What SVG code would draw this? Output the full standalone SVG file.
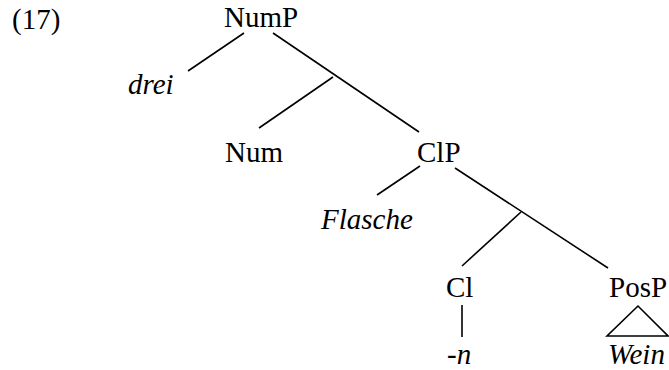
<svg xmlns="http://www.w3.org/2000/svg" width="669" height="370" viewBox="0 0 669 370">
<style>
text { font-family: 'Liberation Serif', 'Times New Roman', Times, serif; font-size: 29px; fill: #000; }
.it { font-style: italic; }
.edge { stroke: #000; stroke-width: 1.6; fill: none; stroke-linecap: butt; }
</style>
<rect width="669" height="370" fill="#fff"/>
<g id="label-17"><text x="12" y="29">(17)</text></g>
<g id="connectors">
  <line class="edge" x1="244" y1="33" x2="188" y2="71"/>
  <line class="edge" x1="273" y1="33" x2="419" y2="132"/>
  <line class="edge" x1="333" y1="77" x2="259" y2="128"/>
  <line class="edge" x1="420" y1="166" x2="377" y2="195"/>
  <line class="edge" x1="455" y1="168" x2="608" y2="268"/>
  <line class="edge" x1="521" y1="212" x2="462" y2="266"/>
  <line class="edge" x1="462" y1="305" x2="462" y2="337"/>
  <polygon class="edge" points="638,306 607,336 668,336"/>
</g>
<g id="NumP"><text x="224" y="27">NumP</text></g>
<g id="drei"><text class="it" x="128" y="94">drei</text></g>
<g id="Num"><text x="225" y="162">Num</text></g>
<g id="ClP"><text x="417" y="162">ClP</text></g>
<g id="Flasche"><text class="it" x="321" y="229">Flasche</text></g>
<g id="Cl"><text x="446" y="297">Cl</text></g>
<g id="PosP"><text x="609" y="297">PosP</text></g>
<g id="n"><text class="it" x="447" y="364">-n</text></g>
<g id="Wein"><text class="it" x="608" y="364">Wein</text></g>
</svg>
